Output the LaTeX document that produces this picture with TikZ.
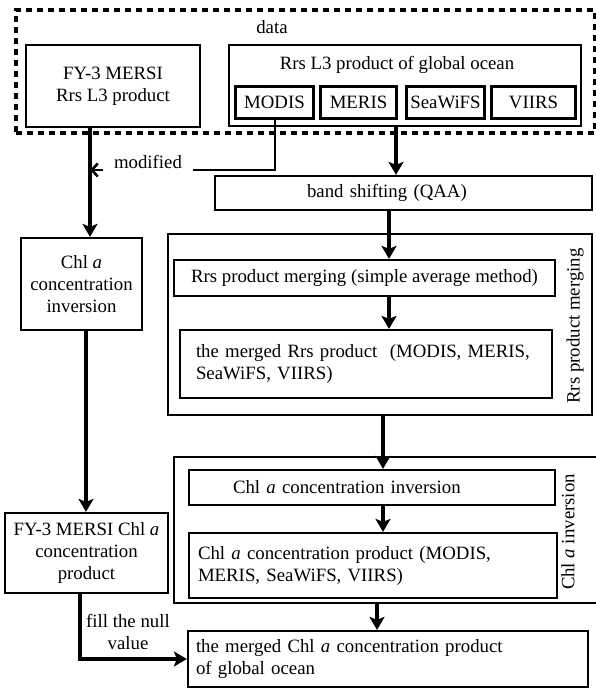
\documentclass[tikz,border=0pt]{standalone}
\usepackage{fontspec}
\setmainfont{Liberation Serif}
\usetikzlibrary{arrows.meta,positioning,calc}

\begin{document}
\begin{tikzpicture}[
  x=1pt,y=-1pt,
  font=\fontsize{18.8}{22}\selectfont,
  box/.style={draw,line width=2.2pt,inner sep=0pt,align=center},
  sensor/.style={box,line width=3.2pt,minimum width=#1,minimum height=32},
  group/.style={draw,line width=2.2pt,inner sep=0pt},
  flow/.style={line width=3.4pt,-{Stealth[length=13pt,width=15pt,inset=3pt]}},
  ]
  \useasboundingbox (0,0) rectangle (596,690);
  % columns of the connectors
  \coordinate (cola) at (90,0);
  \coordinate (colb) at (86,0);
  \coordinate (colc) at (80,0);
  \coordinate (cold) at (396,0);
  \coordinate (cole) at (389,0);
  \coordinate (colf) at (383,0);
  \coordinate (colg) at (377,0);
  \coordinate (colm) at (275,0);
  \coordinate (rowm) at (0,170);

  % data
  \node[draw,line width=3.4pt,dash pattern=on 6pt off 5pt,inner sep=0pt,
    minimum width=579,minimum height=123] (data) at (305.5,71.5) {};
  \node (datalabel) at (272,27) {data};
  \node[box,minimum width=174,minimum height=82] (fy3rrs) at (113,86)
    {FY-3 MERSI\\Rrs L3 product};
  \node[box,minimum width=352,minimum height=81] (global) at (405,85.5) {};
  \node (globaltitle) at (397,65) {Rrs L3 product of global ocean};
  \node[sensor=78] (modis)   at (274.5,102.5) {MODIS};
  \node[sensor=76] (meris)   at (358.5,102.5) {MERIS};
  \node[sensor=78] (seawifs) at (445.5,102.5) {SeaWiFS};
  \node[sensor=84] (viirs)   at (533.5,102.5) {VIIRS};

  % left branch
  \node[box,minimum width=121,minimum height=92] (chlleft) at (81.5,284)
    {Chl \textit{a}\\concentration\\inversion};
  \node[box,minimum width=163,minimum height=80] (fy3chl) at (86.5,553)
    {FY-3 MERSI Chl \textit{a}\\concentration\\product};

  % right branch
  \node[box,minimum width=377,minimum height=34,text width=193,align=left]
    (band) at (403.5,193) {band shifting (QAA)};
  \node[group,minimum width=424,minimum height=181] (mergeout) at (380,324.5) {};
  \node[rotate=90] (mergelabel) at (575,326) {Rrs product merging};
  \node[box,minimum width=381,minimum height=36] (avg) at (364.5,278)
    {Rrs product merging (simple average method)};
  \node[box,minimum width=372,minimum height=68,text width=340,align=left]
    (mergedrrs) at (366,364)
    {the merged Rrs product~ (MODIS, MERIS,\\SeaWiFS, VIIRS)};
  \node[group,minimum width=426,minimum height=146] (invout) at (387,530) {};
  \node[rotate=90] (invlabel) at (568,532) {Chl \textit{a} inversion};
  \node[box,minimum width=366,minimum height=35,text width=278,align=left]
    (chlinv) at (372,487.5) {Chl \textit{a} concentration inversion};
  \node[box,minimum width=368,minimum height=65,text width=350,align=left]
    (chlprod) at (373,565.5)
    {Chl \textit{a} concentration product (MODIS,\\MERIS, SeaWiFS, VIIRS)};
  \node[box,minimum width=400,minimum height=56,text width=384,align=left]
    (final) at (388,659)
    {the merged Chl \textit{a} concentration product\\of global ocean};

  % connectors
  \draw[flow] (fy3rrs.south -| cola) -- (chlleft.north -| cola);
  \draw[flow] (chlleft.south -| colb) -- (fy3chl.north -| colb);
  \draw[flow] (fy3chl.south -| colc) |- (final.west);
  \node[align=center] (fillnull) at (128,632) {fill the null\\value};
  \draw[line width=2.6pt,-{Straight Barb[length=6pt,width=13pt]}]
    (modis.south -| colm) |- (rowm -| cola);
  \node[fill=white,inner sep=0pt,minimum width=90,minimum height=24]
    (modified) at (148,162) {modified};
  \draw[flow] (global.south -| cold) -- (band.north -| cold);
  \draw[flow] (band.south -| cole) -- (avg.north -| cole);
  \draw[flow] (avg.south -| cole) -- (mergedrrs.north -| cole);
  \draw[flow] (mergeout.south -| colf) -- (chlinv.north -| colf);
  \draw[flow] (chlinv.south -| colf) -- (chlprod.north -| colf);
  \draw[flow] (invout.south -| colg) -- (final.north -| colg);
\end{tikzpicture}
\end{document}
